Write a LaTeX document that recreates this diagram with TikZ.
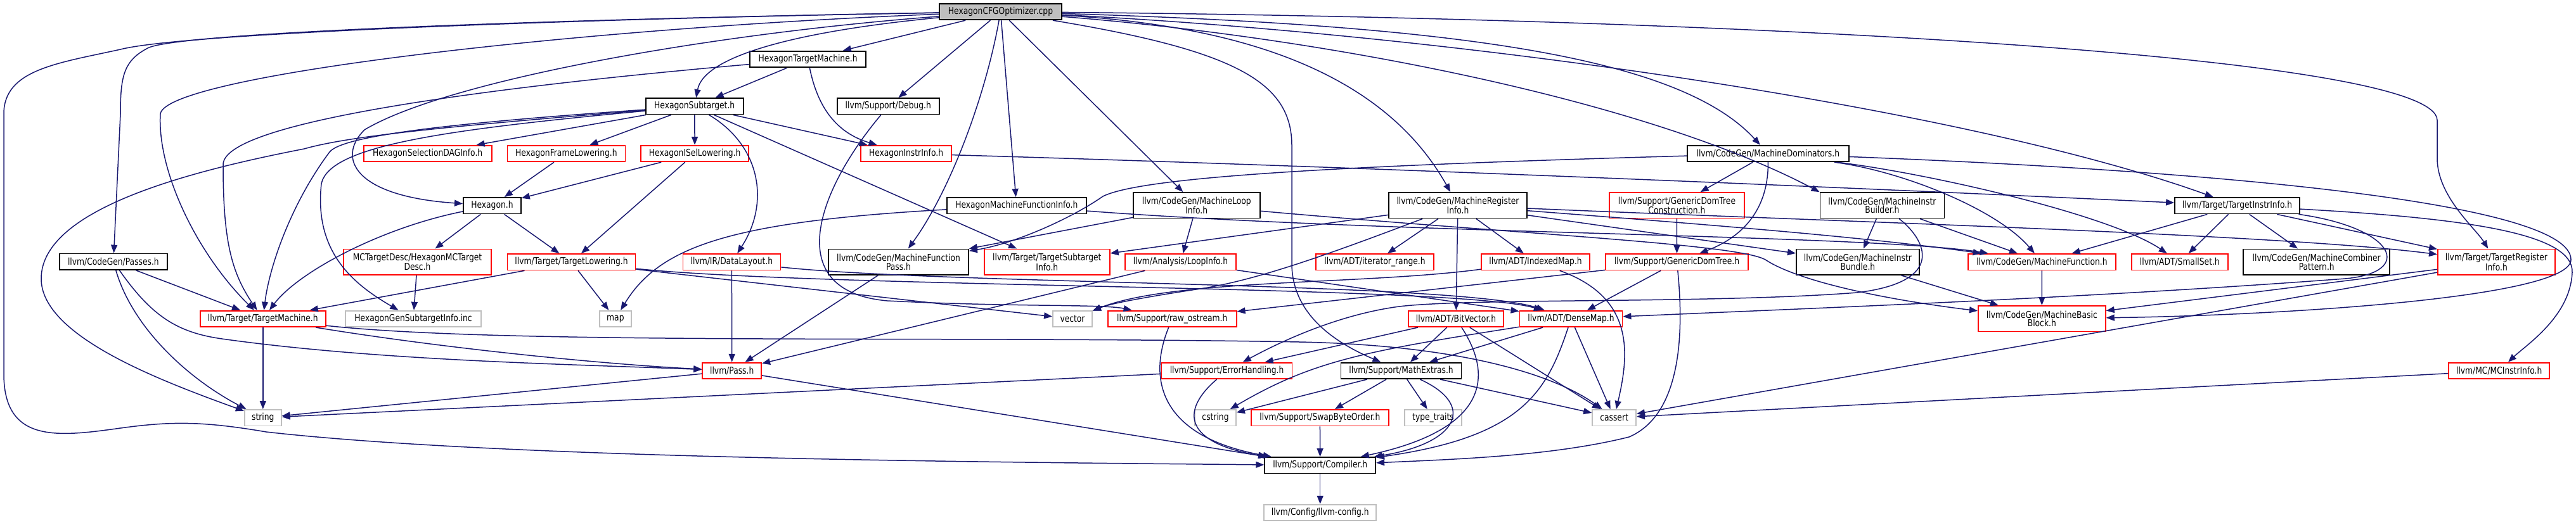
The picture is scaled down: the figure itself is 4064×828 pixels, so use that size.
\documentclass[tikz,border=0pt]{standalone}
\usepackage{fontspec}
\setmainfont{DejaVu Sans}[FakeStretch=0.82]
\usetikzlibrary{arrows.meta}
\definecolor{edgec}{HTML}{191970}
\definecolor{grayb}{HTML}{BFBFBF}
\begin{document}
\begin{tikzpicture}[x=1pt,y=-1pt,
  nbox/.style={draw, line width=1.8pt, inner sep=0pt, align=center, font=\fontsize{15}{13.5}\selectfont, minimum height=25.5pt},
  nb/.style={nbox, draw=black},
  nr/.style={nbox, draw=red},
  ng/.style={nbox, draw=grayb},
  two/.style={minimum height=40.5pt},
  dep/.style={draw=edgec, line width=1.5pt, -{Triangle[length=13pt,width=10pt]}},
]
\useasboundingbox (0,0) rectangle (4064,828);
% nodes
\node[nb, fill=grayb, minimum width=193pt] (root) at (1578.5,18.5) {HexagonCFGOptimizer.cpp};
\node[nb, minimum width=183pt] (htm) at (1274.6,93.5) {HexagonTargetMachine.h};
\node[nb, minimum width=154pt] (hst) at (1095.7,167.8) {HexagonSubtarget.h};
\node[nb, minimum width=161pt] (dbg) at (1401.3,167.8) {llvm/Support/Debug.h};
\node[nr, minimum width=202pt] (sdag) at (674.7,242.5) {HexagonSelectionDAGInfo.h};
\node[nr, minimum width=186pt] (frl) at (893.4,242.5) {HexagonFrameLowering.h};
\node[nr, minimum width=170pt] (isl) at (1096.2,242.5) {HexagonISelLowering.h};
\node[nr, minimum width=143pt] (hii) at (1429.5,242.5) {HexagonInstrInfo.h};
\node[nb, minimum width=255pt] (mdom) at (2789.3,242.5) {llvm/CodeGen/MachineDominators.h};
\node[nb, minimum width=91pt] (hexh) at (776.4,324.7) {Hexagon.h};
\node[nb, minimum width=220pt] (hmfi) at (1603.8,324.7) {HexagonMachineFunctionInfo.h};
\node[nb, two, minimum width=200pt] (mli) at (1887.7,324.3) {llvm/CodeGen/MachineLoop\\Info.h};
\node[nb, two, minimum width=218pt] (mri) at (2300,324.3) {llvm/CodeGen/MachineRegister\\Info.h};
\node[nr, two, minimum width=213pt] (gdtc) at (2645.4,324.3) {llvm/Support/GenericDomTree\\Construction.h};
\node[nb, two, minimum width=196pt] (mib) at (2969.4,324.3) {llvm/CodeGen/MachineInstr\\Builder.h};
\node[nb, minimum width=197pt] (tii) at (3529.5,324.7) {llvm/Target/TargetInstrInfo.h};
\node[nb, minimum width=170pt] (passes) at (178.9,413.3) {llvm/CodeGen/Passes.h};
\node[nr, two, minimum width=233pt] (mctd) at (658.5,413.7) {MCTargetDesc/HexagonMCTarget\\Desc.h};
\node[nr, minimum width=202pt] (tlow) at (901.5,413.7) {llvm/Target/TargetLowering.h};
\node[nr, minimum width=154pt] (dl) at (1154.4,413.7) {llvm/IR/DataLayout.h};
\node[nb, two, minimum width=221pt] (mfp) at (1417.5,413.7) {llvm/CodeGen/MachineFunction\\Pass.h};
\node[nr, two, minimum width=198pt] (tsi) at (1651.8,413.7) {llvm/Target/TargetSubtarget\\Info.h};
\node[nr, minimum width=175pt] (li) at (1862.5,413.7) {llvm/Analysis/LoopInfo.h};
\node[nr, minimum width=186pt] (itr) at (2169,413.7) {llvm/ADT/iterator\_range.h};
\node[nr, minimum width=171pt] (imap) at (2422.5,413.7) {llvm/ADT/IndexedMap.h};
\node[nr, minimum width=225pt] (gdt) at (2645.5,413.7) {llvm/Support/GenericDomTree.h};
\node[nb, two, minimum width=194pt] (mibun) at (2930.9,413.7) {llvm/CodeGen/MachineInstr\\Bundle.h};
\node[nr, minimum width=233pt] (mf) at (3221.4,413.7) {llvm/CodeGen/MachineFunction.h};
\node[nr, minimum width=152pt] (sset) at (3438.8,413.7) {llvm/ADT/SmallSet.h};
\node[nb, two, minimum width=231pt] (mcp) at (3654.7,413.7) {llvm/CodeGen/MachineCombiner\\Pattern.h};
\node[nr, two, minimum width=185pt] (tri) at (3938.4,413.7) {llvm/Target/TargetRegister\\Info.h};
\node[nr, minimum width=198pt] (tm) at (414.8,503.4) {llvm/Target/TargetMachine.h};
\node[ng, minimum width=214pt] (gsi) at (652,503.4) {HexagonGenSubtargetInfo.inc};
\node[ng, minimum width=50.5pt] (map) at (970.9,503.4) {map};
\node[ng, minimum width=62pt] (vec) at (1692,503.4) {vector};
\node[nr, minimum width=203pt] (ros) at (1849.2,503.4) {llvm/Support/raw\_ostream.h};
\node[nr, minimum width=150pt] (bv) at (2297,503.4) {llvm/ADT/BitVector.h};
\node[nr, minimum width=162pt] (dm) at (2478.5,503.4) {llvm/ADT/DenseMap.h};
\node[nr, two, minimum width=201pt] (mbb) at (3221.3,503.2) {llvm/CodeGen/MachineBasic\\Block.h};
\node[nr, minimum width=93pt] (pass) at (1154.7,585.4) {llvm/Pass.h};
\node[nr, minimum width=206pt] (eh) at (1935.5,585.4) {llvm/Support/ErrorHandling.h};
\node[nb, minimum width=190pt] (mex) at (2210.5,585.4) {llvm/Support/MathExtras.h};
\node[nr, minimum width=159pt] (mcii) at (3942.7,585.4) {llvm/MC/MCInstrInfo.h};
\node[ng, minimum width=58pt] (str) at (414.8,659.7) {string};
\node[ng, minimum width=65pt] (cstr) at (1917.5,659.7) {cstring};
\node[nr, minimum width=217pt] (sbo) at (2082.4,659.7) {llvm/Support/SwapByteOrder.h};
\node[ng, minimum width=90pt] (tt) at (2261,659.7) {type\_traits};
\node[ng, minimum width=69pt] (cas) at (2546.6,659.7) {cassert};
\node[nb, minimum width=175pt] (comp) at (2082.7,734.8) {llvm/Support/Compiler.h};
\node[ng, minimum width=177pt] (cfg) at (2082.7,809.4) {llvm/Config/llvm-config.h};

% edges from root
\draw[dep] (root) -- (htm);
\draw[dep] (root) .. controls (1250,50) and (1110,90) .. (hst);
\draw[dep] (root) -- (dbg);
\draw[dep] (root) -- (hmfi);
\draw[dep] (root) -- (mli);
\draw[dep] (root) .. controls (1555,150) and (1500,300) .. (mfp);
\draw[dep] (root) .. controls (900,30) and (300,50) .. (235,75) .. controls (195,95) and (190,120) .. (190,180) -- (passes);
\draw[dep] (root) .. controls (900,45) and (260,120) .. (253,180) .. controls (248,270) and (310,400) .. (tm);
\draw[dep] (root) .. controls (1000,28) and (300,50) .. (190,78) .. controls (90,100) and (6,110) .. (6,180) -- (6,590) .. controls (6,700) and (90,690) .. (190,676) .. controls (270,665) and (320,665) .. (420,682) .. controls (800,725) and (1600,730) .. (comp);
\draw[dep] (root) .. controls (1100,55) and (700,130) .. (575,205) .. controls (530,250) and (560,310) .. (hexh);
\draw[dep] (root) .. controls (1950,40) and (2180,110) .. (mri);
\draw[dep] (root) .. controls (2300,40) and (2650,90) .. (mdom);
\draw[dep] (root) .. controls (2100,60) and (2600,160) .. (mib.north west);
\draw[dep] (root) .. controls (2300,55) and (3100,170) .. (tii);
\draw[dep] (root) .. controls (2800,30) and (3845,90) .. (3845,190) -- (3845,250) .. controls (3845,310) and (3905,360) .. (tri);
\draw[dep] (root) .. controls (1950,80) and (2038,130) .. (2038,230) -- (2038,420) .. controls (2040,480) and (2080,530) .. (mex);

% HexagonTargetMachine.h
\draw[dep] (htm) -- (hst);
\draw[dep] (htm) .. controls (1290,170) and (1320,210) .. (hii);
\draw[dep] (htm) .. controls (800,135) and (352,190) .. (352,260) .. controls (352,380) and (365,430) .. (tm);

% HexagonSubtarget.h
\draw[dep] (hst) -- (sdag);
\draw[dep] (hst) -- (frl);
\draw[dep] (hst) -- (isl);
\draw[dep] (hst) -- (hii);
\draw[dep] (hst) .. controls (1200,230) and (1215,320) .. (dl);
\draw[dep] (hst) -- (tsi);
\draw[dep] (hst) .. controls (700,195) and (540,215) .. (520,240) .. controls (460,320) and (425,420) .. (tm);
\draw[dep] (hst) .. controls (700,205) and (520,230) .. (507,290) .. controls (495,400) and (560,450) .. (gsi);
\draw[dep] (hst) .. controls (700,200) and (550,215) .. (480,235) .. controls (300,270) and (65,330) .. (65,440) .. controls (65,530) and (250,600) .. (str);

% others
\draw[dep] (dbg) .. controls (1290,300) and (1230,460) .. (1400,475) .. controls (1600,485) and (1740,480) .. (ros);
\draw[dep] (frl) -- (hexh);
\draw[dep] (isl) -- (hexh);
\draw[dep] (isl) -- (tlow);
\draw[dep] (hii) .. controls (2200,265) and (3000,300) .. (tii);

\draw[dep] (mdom) .. controls (2100,262) and (1800,280) .. (1740,310) .. controls (1690,345) and (1600,385) .. (mfp);
\draw[dep] (mdom) -- (gdtc);
\draw[dep] (mdom) .. controls (2790,320) and (2760,370) .. (gdt);
\draw[dep] (mdom) .. controls (3000,270) and (3150,330) .. (mf);
\draw[dep] (mdom) .. controls (3050,275) and (3330,340) .. (sset);
\draw[dep] (mdom) .. controls (3500,270) and (4056,320) .. (4056,410) .. controls (4056,470) and (3600,498) .. (mbb);

\draw[dep] (tii) -- (mf);
\draw[dep] (tii) -- (sset);
\draw[dep] (tii) -- (mcp);
\draw[dep] (tii) -- (tri);
\draw[dep] (tii) .. controls (3780,360) and (3810,430) .. (3700,440) .. controls (3300,470) and (2900,485) .. (dm);
\draw[dep] (tii) .. controls (3900,345) and (4060,370) .. (4058,430) .. controls (4055,500) and (3985,545) .. (mcii);

\draw[dep] (hexh) -- (mctd);
\draw[dep] (hexh) -- (tlow);
\draw[dep] (hexh) .. controls (600,360) and (470,430) .. (tm);

\draw[dep] (hmfi) .. controls (1150,350) and (1040,390) .. (map);
\draw[dep] (hmfi) .. controls (2200,370) and (2950,370) .. (mf);

\draw[dep] (mli) -- (li);
\draw[dep] (mli) -- (mfp);
\draw[dep] (mli) .. controls (2400,370) and (2740,385) .. (2785,410) .. controls (2830,440) and (2950,470) .. (mbb);

\draw[dep] (mri) -- (itr);
\draw[dep] (mri) -- (bv);
\draw[dep] (mri) -- (imap);
\draw[dep] (mri) .. controls (2100,400) and (1990,440) .. (1900,455) .. controls (1800,470) and (1750,480) .. (vec);
\draw[dep] (mri) -- (tsi);
\draw[dep] (mri) -- (mibun);
\draw[dep] (mri) .. controls (2700,355) and (2950,375) .. (mf);
\draw[dep] (mri) .. controls (2900,350) and (3600,370) .. (tri);

\draw[dep] (gdtc) -- (gdt);
\draw[dep] (gdt) -- (dm);
\draw[dep] (gdt) -- (ros);
\draw[dep] (gdt) .. controls (2660,560) and (2640,660) .. (2570,690) .. controls (2450,720) and (2300,725) .. (comp);

\draw[dep] (imap) .. controls (2580,470) and (2570,560) .. (cas);
\draw[dep] (imap) .. controls (2150,450) and (1850,440) .. (vec);

\draw[dep] (li) -- (pass);
\draw[dep] (li) -- (dm);
\draw[dep] (dl) -- (pass);
\draw[dep] (dl) .. controls (1500,450) and (2300,445) .. (dm);
\draw[dep] (tlow) -- (tm);
\draw[dep] (tlow) -- (map);
\draw[dep] (tlow) -- (vec);
\draw[dep] (tlow) .. controls (1300,455) and (2300,450) .. (dm);
\draw[dep] (mfp) -- (pass);
\draw[dep] (mctd) -- (gsi);

\draw[dep] (passes) -- (tm);
\draw[dep] (passes) .. controls (210,520) and (300,600) .. (str);
\draw[dep] (passes) .. controls (240,500) and (280,525) .. (350,535) .. controls (600,570) and (900,575) .. (pass);
\draw[dep] (tm) -- (str);
\draw[dep] (tm) .. controls (700,550) and (950,575) .. (pass);
\draw[dep] (tm) .. controls (800,545) and (1500,530) .. (2050,540) .. controls (2300,545) and (2450,590) .. (cas);

\draw[dep] (mibun) -- (mbb);
\draw[dep] (mf) -- (mbb);
\draw[dep] (tri) -- (mbb);
\draw[dep] (tri) -- (cas);
\draw[dep] (mcii) -- (cas);
\draw[dep] (mib) -- (mibun);
\draw[dep] (mib) -- (mf);
\draw[dep] (mib) .. controls (3040,380) and (3070,445) .. (2930,462) .. controls (2700,480) and (2300,470) .. (2200,485) .. controls (2100,500) and (2010,545) .. (eh);

\draw[dep] (ros) .. controls (1810,600) and (1830,690) .. (comp);
\draw[dep] (eh) .. controls (1860,650) and (1870,700) .. (comp);
\draw[dep] (eh) -- (str);
\draw[dep] (pass) -- (comp);
\draw[dep] (pass) -- (str);
\draw[dep] (bv) -- (eh);
\draw[dep] (bv) -- (mex);
\draw[dep] (bv) .. controls (2360,600) and (2340,680) .. (comp);
\draw[dep] (bv) -- (cas);
\draw[dep] (dm) -- (mex);
\draw[dep] (dm) .. controls (2150,555) and (2070,570) .. (cstr);
\draw[dep] (dm) -- (cas);
\draw[dep] (dm) .. controls (2440,620) and (2400,690) .. (comp);
\draw[dep] (mex) -- (sbo);
\draw[dep] (mex) -- (tt);
\draw[dep] (mex) -- (cas);
\draw[dep] (mex) .. controls (2330,640) and (2300,700) .. (comp);
\draw[dep] (mex) -- (cstr);
\draw[dep] (sbo) -- (comp);
\draw[dep] (comp) -- (cfg);
\end{tikzpicture}
\end{document}
